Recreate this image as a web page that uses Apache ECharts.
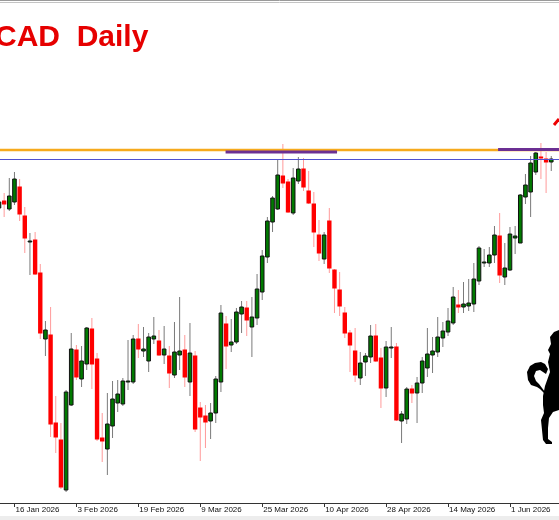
<!DOCTYPE html>
<html>
<head>
<meta charset="utf-8">
<title>CAD Daily</title>
<script src="https://cdn.jsdelivr.net/npm/echarts@6/dist/echarts.min.js"></script>
<style>
  html, body { margin: 0; padding: 0; background: #fff; }
  #chart { width: 559px; height: 520px; }
</style>
</head>
<body>
<div id="chart"></div>
<script>
// daily candles from 13 Jan 2026, each row is [open, close, low, high]
const ohlc = [
  [1.3942, 1.3948, 1.3939, 1.3952], [1.3949, 1.3946, 1.3933, 1.3957], [1.3941, 1.3954, 1.3939, 1.3972],
  [1.3948, 1.3971, 1.3945, 1.3978], [1.3963, 1.3936, 1.3929, 1.3971], [1.3934, 1.3912, 1.3897, 1.3943],
  [1.3908, 1.3909, 1.3875, 1.3917], [1.3910, 1.3876, 1.3875, 1.3918], [1.3877, 1.3817, 1.3811, 1.3886],
  [1.3811, 1.3820, 1.3794, 1.3829], [1.3815, 1.3726, 1.3713, 1.3843], [1.3727, 1.3713, 1.3697, 1.3754],
  [1.3710, 1.3663, 1.3661, 1.3727], [1.3660, 1.3758, 1.3658, 1.3760], [1.3745, 1.3801, 1.3744, 1.3817],
  [1.3800, 1.3773, 1.3770, 1.3805], [1.3771, 1.3789, 1.3763, 1.3804], [1.3786, 1.3822, 1.3780, 1.3823],
  [1.3821, 1.3786, 1.3761, 1.3832], [1.3791, 1.3711, 1.3709, 1.3797], [1.3712, 1.3709, 1.3688, 1.3737],
  [1.3701, 1.3726, 1.3675, 1.3757], [1.3724, 1.3751, 1.3712, 1.3769], [1.3747, 1.3756, 1.3738, 1.3770],
  [1.3746, 1.3769, 1.3744, 1.3772], [1.3768, 1.3769, 1.3760, 1.3810], [1.3768, 1.3811, 1.3766, 1.3815],
  [1.3811, 1.3801, 1.3792, 1.3826], [1.3799, 1.3801, 1.3793, 1.3823], [1.3789, 1.3813, 1.3778, 1.3817],
  [1.3811, 1.3814, 1.3806, 1.3833], [1.3809, 1.3795, 1.3794, 1.3820], [1.3795, 1.3801, 1.3786, 1.3824],
  [1.3794, 1.3777, 1.3762, 1.3804], [1.3775, 1.3798, 1.3772, 1.3828], [1.3795, 1.3799, 1.3780, 1.3853],
  [1.3800, 1.3773, 1.3763, 1.3815], [1.3768, 1.3797, 1.3754, 1.3827], [1.3794, 1.3721, 1.3718, 1.3799],
  [1.3742, 1.3733, 1.3689, 1.3748], [1.3734, 1.3728, 1.3702, 1.3745], [1.3729, 1.3737, 1.3711, 1.3747],
  [1.3737, 1.3771, 1.3727, 1.3774], [1.3768, 1.3837, 1.3758, 1.3845], [1.3826, 1.3804, 1.3781, 1.3834],
  [1.3805, 1.3808, 1.3798, 1.3831], [1.3808, 1.3838, 1.3806, 1.3842], [1.3836, 1.3843, 1.3817, 1.3849],
  [1.3842, 1.3830, 1.3814, 1.3849], [1.3823, 1.3833, 1.3793, 1.3853], [1.3832, 1.3861, 1.3825, 1.3876],
  [1.3858, 1.3894, 1.3850, 1.3900], [1.3893, 1.3929, 1.3887, 1.3933], [1.3928, 1.3952, 1.3918, 1.3954],
  [1.3941, 1.3975, 1.3940, 1.3991], [1.3974, 1.3967, 1.3962, 1.4006], [1.3968, 1.3938, 1.3937, 1.3971],
  [1.3937, 1.3972, 1.3935, 1.3982], [1.3969, 1.3981, 1.3966, 1.3993], [1.3981, 1.3963, 1.3959, 1.3992],
  [1.3959, 1.3947, 1.3946, 1.3979], [1.3946, 1.3918, 1.3903, 1.3958], [1.3915, 1.3897, 1.3889, 1.3930],
  [1.3891, 1.3915, 1.3886, 1.3918], [1.3929, 1.3882, 1.3877, 1.3942], [1.3880, 1.3862, 1.3837, 1.3881],
  [1.3860, 1.3844, 1.3834, 1.3878], [1.3837, 1.3817, 1.3812, 1.3843], [1.3817, 1.3805, 1.3778, 1.3820],
  [1.3799, 1.3775, 1.3768, 1.3822], [1.3772, 1.3787, 1.3765, 1.3798], [1.3788, 1.3794, 1.3774, 1.3797],
  [1.3793, 1.3814, 1.3787, 1.3825], [1.3814, 1.3789, 1.3788, 1.3826], [1.3792, 1.3762, 1.3742, 1.3802],
  [1.3762, 1.3803, 1.3753, 1.3809], [1.3802, 1.3803, 1.3792, 1.3823], [1.3803, 1.3730, 1.3729, 1.3807],
  [1.3729, 1.3736, 1.3707, 1.3739], [1.3731, 1.3761, 1.3726, 1.3763], [1.3761, 1.3757, 1.3747, 1.3765],
  [1.3757, 1.3767, 1.3727, 1.3773], [1.3767, 1.3789, 1.3757, 1.3793], [1.3782, 1.3796, 1.3773, 1.3822],
  [1.3795, 1.3799, 1.3777, 1.3813], [1.3798, 1.3813, 1.3793, 1.3833], [1.3812, 1.3819, 1.3803, 1.3828],
  [1.3818, 1.3829, 1.3814, 1.3842], [1.3827, 1.3853, 1.3825, 1.3863], [1.3845, 1.3843, 1.3837, 1.3860],
  [1.3843, 1.3846, 1.3837, 1.3868], [1.3844, 1.3847, 1.3839, 1.3871], [1.3846, 1.3871, 1.3838, 1.3887],
  [1.3869, 1.3902, 1.3865, 1.3904], [1.3887, 1.3888, 1.3883, 1.3901], [1.3887, 1.3895, 1.3883, 1.3903],
  [1.3895, 1.3915, 1.3887, 1.3924], [1.3914, 1.3875, 1.3867, 1.3937], [1.3873, 1.3882, 1.3865, 1.3907],
  [1.3880, 1.3916, 1.3879, 1.3923], [1.3912, 1.3914, 1.3896, 1.3924], [1.3907, 1.3955, 1.3907, 1.3956],
  [1.3953, 1.3965, 1.3946, 1.3976], [1.3958, 1.3987, 1.3933, 1.3994], [1.3978, 1.3997, 1.3975, 1.3998],
  [1.3993, 1.3992, 1.3971, 1.4007], [1.3991, 1.3988, 1.3957, 1.3998], [1.3988, 1.3991, 1.3979, 1.3994]
]

const tickDates = ['16 Jan 2026', '3 Feb 2026', '19 Feb 2026', '9 Mar 2026', '25 Mar 2026',
  '10 Apr 2026', '28 Apr 2026', '14 May 2026', '1 Jun 2026']

// horizontal levels drawn on the chart
const resistance = 1.4000
const supportLine = 1.39905
// purple trend segments, [[bar, price], [bar, price]]
const trendSegments = [
  [[43.9, 1.3998], [65.5, 1.3998]],
  [[96.7, 1.40005], [108.5, 1.40005]]
]

// weekday dates (MT4 daily bars), one spare slot after the last candle
const barCount = ohlc.length + 1
const months = ['Jan', 'Feb', 'Mar', 'Apr', 'May', 'Jun', 'Jul', 'Aug', 'Sep', 'Oct', 'Nov', 'Dec']
const dates = []
for (let d = new Date(Date.UTC(2026, 0, 13)); dates.length < barCount; d.setUTCDate(d.getUTCDate() + 1)) {
  const wd = d.getUTCDay()
  if (wd === 0 || wd === 6) continue
  dates.push(d.getUTCDate() + ' ' + months[d.getUTCMonth()] + ' ' + d.getUTCFullYear())
}

function showTick (idx, value) {
  return tickDates.indexOf(value) >= 0
}

function renderCandle (params, api) {
  const i = api.value(0)
  const o = api.value(1)
  const c = api.value(2)
  const up = c >= o
  const pO = api.coord([i, o])
  const yC = api.coord([i, c])[1]
  const yL = api.coord([i, api.value(3)])[1]
  const yH = api.coord([i, api.value(4)])[1]
  const x = pO[0]
  const top = Math.min(pO[1], yC)
  const h = Math.max(Math.abs(pO[1] - yC), 1)
  return {
    type: 'group',
    children: [
      {
        type: 'line',
        shape: { x1: x, y1: yH, x2: x, y2: yL },
        style: { stroke: up ? '#7a7a7a' : '#ff9a9a', lineWidth: 1 }
      },
      {
        type: 'rect',
        shape: up ? { x: x - 1.8, y: top, width: 3.6, height: h } : { x: x - 2.2, y: top - 0.5, width: 4.4, height: h + 1 },
        style: up ? { fill: '#007a00', stroke: '#111', lineWidth: 1 } : { fill: '#ff0000' }
      }
    ]
  }
}

const myChart = echarts.init(document.getElementById('chart'))

const option = {
  backgroundColor: '#ffffff',
  animation: false,
  grid: {
    left: -3.6,
    right: 0,
    top: 0,
    bottom: 17,
    outerBoundsMode: 'none'
  },
  xAxis: [
    {
      type: 'category',
      data: dates,
      boundaryGap: true,
      axisLine: { lineStyle: { color: '#333', width: 1 } },
      axisTick: {
        show: true,
        alignWithLabel: true,
        interval: showTick,
        length: 4,
        lineStyle: { color: '#333' }
      },
      axisLabel: {
        interval: showTick,
        align: 'left',
        margin: 3,
        fontSize: 8,
        fontFamily: '"Liberation Sans", Arial, sans-serif',
        color: '#111',
        padding: [0, 0, 0, 1]
      },
      splitLine: { show: false }
    },
    {
      type: 'value',
      show: false,
      min: -0.5,
      max: barCount - 0.5,
      position: 'top'
    }
  ],
  yAxis: {
    type: 'value',
    show: false,
    min: 1.3647,
    max: 1.4150,
    splitLine: { show: false }
  },
  series: [
    {
      type: 'custom',
      name: 'candles',
      xAxisIndex: 0,
      renderItem: renderCandle,
      encode: { x: 0, y: [1, 2, 3, 4] },
      data: ohlc.map((d, i) => [i].concat(d)),
      z: 2
    },
    {
      type: 'line',
      xAxisIndex: 1,
      symbol: 'none',
      silent: true,
      lineStyle: { color: '#f6aa1c', width: 2.5 },
      data: [[-0.5, resistance], [barCount - 0.5, resistance]],
      z: 5
    },
    {
      type: 'line',
      xAxisIndex: 1,
      symbol: 'none',
      silent: true,
      lineStyle: { color: '#4f4fd0', width: 1 },
      data: [[-0.5, supportLine], [barCount - 0.5, supportLine]],
      z: 5
    }
  ].concat(trendSegments.map(seg => ({
    type: 'line',
    xAxisIndex: 1,
    symbol: 'none',
    silent: true,
    lineStyle: { color: '#6b2f93', width: 3 },
    data: seg,
    z: 6
  }))),
  graphic: [
    { type: 'line', shape: { x1: 0, y1: 0.5, x2: 559, y2: 0.5 }, style: { stroke: '#9a9a9a', lineWidth: 1 } },
    { type: 'line', shape: { x1: 0, y1: 2.5, x2: 559, y2: 2.5 }, style: { stroke: '#c4c4c4', lineWidth: 1 } },
    { type: 'rect', shape: { x: 0, y: 516, width: 559, height: 4 }, style: { fill: '#ededed' } },
    {
      type: 'text',
      x: -5,
      y: 23,
      style: {
        text: 'CAD  Daily',
        font: 'bold 30px "Liberation Sans", Arial, sans-serif',
        fill: '#e60000',
        verticalAlign: 'top'
      }
    },
    // red arrow sticking in from the right edge
    { type: 'polyline', shape: { points: [[554, 125], [559, 119]] }, style: { stroke: '#ee0000', lineWidth: 3 } },
    // horse logo, cut by the right edge
    {
      type: 'polygon',
      shape: {
        points: [[559, 330], [554, 332], [550, 337], [551, 344], [548, 350], [550, 354], [548, 362], [550, 372],
          [545, 386], [543, 396], [543, 405], [544, 413], [541, 420], [542, 430], [543, 440], [546, 444],
          [552, 444], [552, 442], [548, 439], [548, 428], [549, 418], [553, 412], [559, 410]]
      },
      style: { fill: '#000' }
    },
    {
      type: 'polygon',
      shape: {
        points: [[548, 397], [540, 389], [537, 387], [531, 385], [528, 380], [527, 372], [530, 366], [535, 363],
          [541, 362], [545, 364], [548, 369], [546, 374], [543, 372], [540, 370], [536, 371], [534, 376],
          [536, 381], [539, 384], [545, 392]]
      },
      style: { fill: '#000' }
    }
  ]
}

myChart.setOption(option)
</script>
</body>
</html>
